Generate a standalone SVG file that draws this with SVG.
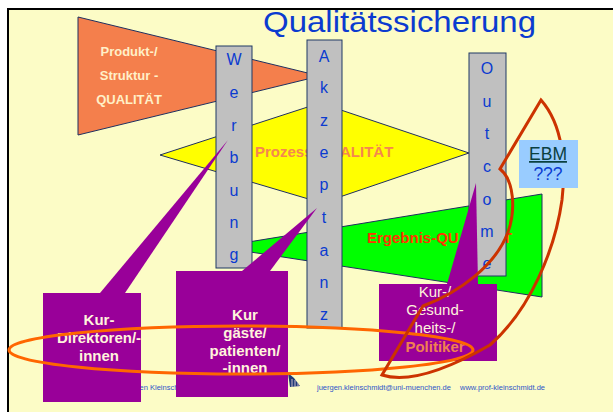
<svg xmlns="http://www.w3.org/2000/svg" width="613" height="412" viewBox="0 0 613 412">
<style>
.sh{stroke:#1F2F5F;stroke-width:1}
.bar{fill:#C0C0C0;stroke:#1F3864;stroke-width:1}
.bl{font-family:"Liberation Sans",Arial,sans-serif;font-size:16px;fill:#0B3BD0;text-anchor:middle}
.pur{fill:#990099}
.bt{font-family:"Liberation Sans",Arial,sans-serif;font-size:15px;font-weight:bold;fill:#FFF3DC;text-anchor:middle}
.bn{font-family:"Liberation Sans",Arial,sans-serif;font-size:15px;fill:#FFF3DC;text-anchor:middle}
.ft{font-family:"Liberation Sans",Arial,sans-serif;font-size:7.5px;fill:#2F55C8}
</style>
<rect x="0" y="0" width="613" height="412" fill="#FFFFFF"/>
<rect x="8" y="9" width="610" height="410" fill="#FCFCC6" stroke="#000000" stroke-width="2"/>
<text x="263" y="32" font-family="Liberation Sans, Arial, sans-serif" font-size="29" fill="#0B3BD0" textLength="273" lengthAdjust="spacingAndGlyphs">Qualitätssicherung</text>

<g id="struktur">
<polygon class="sh" points="78,17 320,76 78,135" fill="#F47F4C"/>
<text font-family="Liberation Sans, Arial, sans-serif" font-size="13" font-weight="bold" fill="#FFF0C8" text-anchor="middle"><tspan x="129" y="56">Produkt-/</tspan><tspan x="129" y="80">Struktur -</tspan><tspan x="129" y="104">QUALITÄT</tspan></text>
</g>
<g id="prozess">
<polygon class="sh" points="160,155 320,103 469,153 322,203" fill="#FFFF00"/>
<text x="255" y="157" font-family="Liberation Sans, Arial, sans-serif" font-size="15" font-weight="bold" fill="#F5874F">Prozess-QUALITÄT</text>
</g>
<g id="ergebnis">
<polygon class="sh" points="218,247 542,194 542,297" fill="#00FF00"/>
<text x="367" y="243" font-family="Liberation Sans, Arial, sans-serif" font-size="15" font-weight="bold" fill="#FF3300">Ergebnis-QUALITÄT</text>
</g>

<g id="werbung">
<rect class="bar" x="216" y="46" width="36" height="222"/>
<text class="bl"><tspan x="234" y="65">W</tspan><tspan x="234" y="98">e</tspan><tspan x="234" y="131">r</tspan><tspan x="234" y="163">b</tspan><tspan x="234" y="196">u</tspan><tspan x="234" y="228">n</tspan><tspan x="234" y="260">g</tspan></text>
</g>
<g id="akzeptanz">
<rect class="bar" x="307" y="40" width="35" height="288"/>
<text class="bl"><tspan x="324" y="62">A</tspan><tspan x="324" y="93">k</tspan><tspan x="324" y="126">z</tspan><tspan x="324" y="158">e</tspan><tspan x="324" y="190">p</tspan><tspan x="324" y="223">t</tspan><tspan x="324" y="256">a</tspan><tspan x="324" y="288">n</tspan><tspan x="324" y="320">z</tspan></text>
</g>
<g id="outcome">
<rect class="bar" x="469" y="53" width="37" height="223"/>
<text class="bl"><tspan x="487" y="74">O</tspan><tspan x="487" y="107">u</tspan><tspan x="487" y="139">t</tspan><tspan x="487" y="172">c</tspan><tspan x="487" y="205">o</tspan><tspan x="487" y="237">m</tspan><tspan x="487" y="269">e</tspan></text>
</g>

<text class="ft" x="125" y="390">Jürgen Kleinschmidt</text>
<text class="ft" x="317" y="390">juergen.kleinschmidt@uni-muenchen.de</text>
<text class="ft" x="460" y="390">www.prof-kleinschmidt.de</text>
<g id="logo">
<polygon points="288,373 294,378 300,386 290,387" fill="#1E3A78"/>
<path d="M292,379 V387 M295,380 V387 M298,383 V387" stroke="#C8B8C8" stroke-width="1"/>
</g>

<g id="connectors">
<polygon class="pur" points="100,293 228,140 125,293"/>
<polygon class="pur" points="242,271 317,208 270,271"/>
<polygon class="pur" points="447,284 476,183 478,284"/>
</g>

<g id="kur-direktoren">
<rect class="pur" x="43" y="293" width="98" height="109"/>
<text class="bt"><tspan x="99" y="325">Kur-</tspan><tspan x="99" y="343">Direktoren/-</tspan><tspan x="99" y="361">innen</tspan></text>
</g>
<g id="kurgaeste">
<rect class="pur" x="176" y="271" width="112" height="126"/>
<text class="bt"><tspan x="245" y="320">Kur</tspan><tspan x="245" y="338">gäste/</tspan><tspan x="245" y="356">patienten/</tspan><tspan x="245" y="373">-innen</tspan></text>
</g>
<g id="politiker">
<rect class="pur" x="379" y="284" width="118" height="77"/>
<text class="bn"><tspan x="435" y="297">Kur-/</tspan><tspan x="435" y="315">Gesund-</tspan><tspan x="435" y="333">heits-/</tspan></text>
<text x="435" y="352" font-family="Liberation Sans, Arial, sans-serif" font-size="15" font-weight="bold" fill="#F08050" text-anchor="middle">Politiker</text>
</g>

<ellipse cx="241" cy="350" rx="232" ry="24" fill="none" stroke="#FF6600" stroke-width="3"/>
<path d="M541,100 L500,169 C514,180 516,210 508,232 C496,265 460,292 423,306 L382,375 C410,384 450,368 490,345 C530,310 555,250 562,200 C566,165 563,125 541,100 Z" fill="none" stroke="#CC3300" stroke-width="3" stroke-linejoin="miter"/>

<g id="ebm">
<rect x="519" y="140" width="59" height="48" fill="#99CCFF"/>
<text x="548" y="160" font-family="Liberation Sans, Arial, sans-serif" font-size="17.5" fill="#0A4040" text-anchor="middle" text-decoration="underline">EBM</text>
<text x="548" y="180" font-family="Liberation Sans, Arial, sans-serif" font-size="17.5" fill="#0B3BD0" text-anchor="middle">???</text>
</g>
</svg>
